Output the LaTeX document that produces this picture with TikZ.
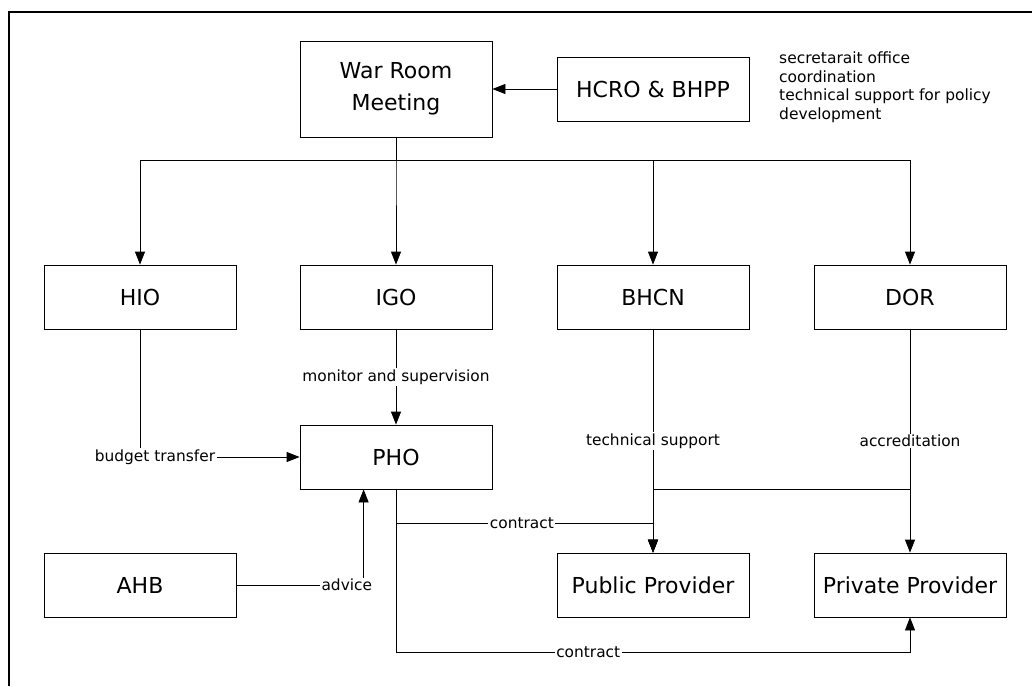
\documentclass[tikz,border=0pt]{standalone}
\usepackage{fontspec}
\setsansfont{DejaVu Sans}
\usetikzlibrary{arrows.meta}

\begin{document}
\begin{tikzpicture}[font=\sffamily, x=1pt, y=-1pt]

        % Setup the styles for the boxes, the links and their texts
        \tikzset{box style/.style={draw,
                                   rectangle,
                                   minimum width=192pt,
                                   minimum height=64pt,
                                   line width=0.8pt,
                                   inner sep=0pt,
                                   align=center,
                                   font=\sffamily\fontsize{22}{32}\selectfont},
                 edge text/.style={fill=white,
                                   inner sep=1.5pt,
                                   font=\sffamily\fontsize{15.4}{18}\selectfont},
                 link/.style={line width=0.8pt,
                              -{Triangle[length=13pt, width=10pt]}}}

        \useasboundingbox (0, 0) rectangle (1032, 686);

        % Draw the frame
        \draw[line width=1.2pt] (1032, 12) -- (9, 12) -- (9, 686);

        % Draw the boxes
        \node[box style, minimum height=96pt] at (396, 89)  (war)  {War Room\\Meeting};
        \node[box style] at (653, 89)  (hcro) {HCRO \& BHPP};
        \node[box style] at (140, 297) (hio)  {HIO};
        \node[box style] at (396, 297) (igo)  {IGO};
        \node[box style] at (653, 297) (bhcn) {BHCN};
        \node[box style] at (910, 297) (dor)  {DOR};
        \node[box style] at (396, 457) (pho)  {PHO};
        \node[box style] at (140, 585) (ahb)  {AHB};
        \node[box style] at (653, 585) (pub)  {Public Provider};
        \node[box style] at (910, 585) (priv) {Private Provider};

        % Side notes
        \node[anchor=north west,
              align=left,
              inner sep=0pt,
              font=\sffamily\fontsize{15.5}{18.4}\selectfont] at (779, 52) (notes)
            {secretarait office\\coordination\\technical support for policy\\development};

        % Connect the boxes
        \coordinate (bus) at (396, 160);
        \draw[link] (hcro) -- (war);
        \foreach \n in {hio, igo, bhcn, dor}
            \draw[link] (war.south) -- (bus) -| (\n.north);
        \draw[link] (hio.south) |- node[edge text, pos=0.547] {budget transfer} (pho.west);
        \draw[link] (igo) -- node[edge text] {monitor and supervision} (pho);
        \draw[link] (ahb.east) -| node[edge text, pos=0.434] {advice} ([xshift=64pt]pho.south west);
        \draw[link] (pho.south) -- ++(0, 34) -| node[edge text, pos=0.245] {contract} (pub.north);
        \draw[link] (pho.south) -- ++(0, 163) -| node[edge text, pos=0.187] {contract} (priv.south);
        \draw[link] (dor.south) -- ++(0, 160) -| (pub.north);
        \draw[link] (bhcn) -- node[edge text] {technical support} (pub);
        \draw[link] (dor) -- node[edge text] {accreditation} (priv);
    \end{tikzpicture}
\end{document}
